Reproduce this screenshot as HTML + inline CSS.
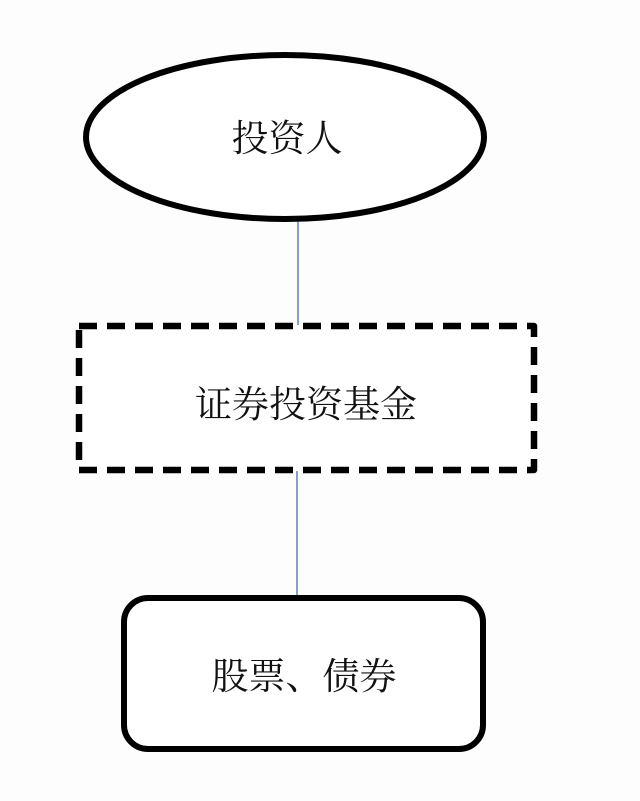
<!DOCTYPE html>
<html><head><meta charset="utf-8"><style>
html,body{margin:0;padding:0;background:#fff;}
svg{display:block;}
text{font-family:"Liberation Serif","Noto Serif CJK SC",serif;font-size:37px;fill:#111;}
</style></head><body>
<svg width="640" height="801" viewBox="0 0 640 801">
<rect width="640" height="801" fill="#fdfdfd"/>
<line x1="298" y1="221" x2="298" y2="325" stroke="#4a6fa5" stroke-width="1.3"/>
<line x1="297" y1="471" x2="297" y2="598" stroke="#4a6fa5" stroke-width="1.3"/>
<ellipse cx="285" cy="137" rx="199" ry="82" fill="#fff" stroke="#000" stroke-width="6"/>
<rect x="79" y="326" width="455" height="144" fill="#fff" stroke="#000" stroke-width="6.5" stroke-dasharray="18 10" stroke-linejoin="round"/>
<rect x="124" y="598" width="359" height="151" rx="24" fill="#fff" stroke="#000" stroke-width="6"/>
<text x="287" y="151" text-anchor="middle">投资人</text>
<text x="306" y="417" text-anchor="middle">证券投资基金</text>
<text x="304" y="689" text-anchor="middle">股票、债券</text>
</svg>
</body></html>
